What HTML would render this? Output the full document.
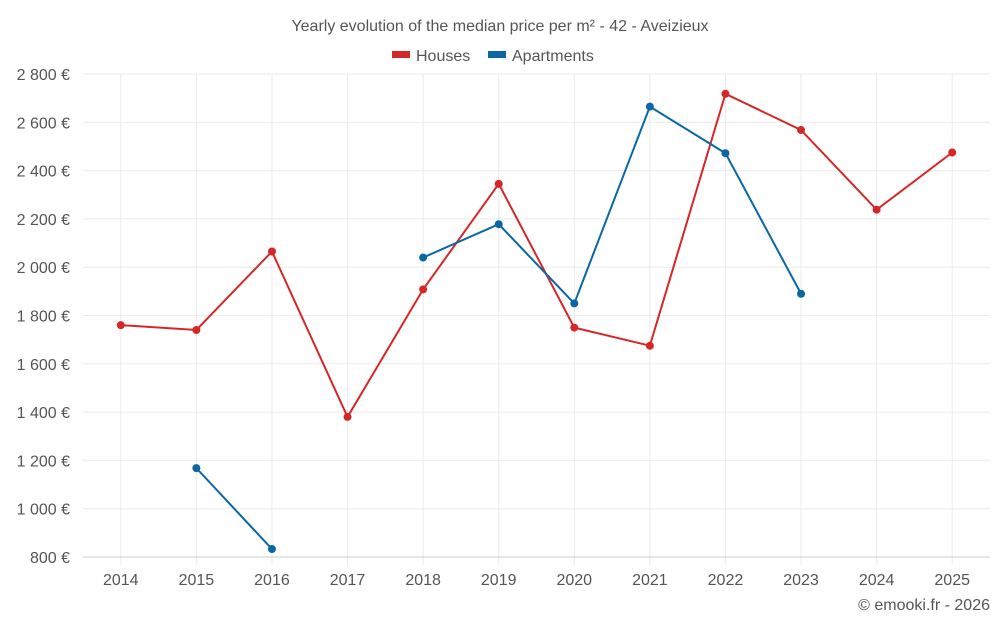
<!DOCTYPE html>
<html><head><meta charset="utf-8"><style>
html,body{margin:0;padding:0;background:#fff;}
svg{display:block;font-family:"Liberation Sans",sans-serif;}
</style></head><body>
<svg id="chart" width="1000" height="625">
<text x="500" y="31" text-anchor="middle" font-size="16" fill="#555">Yearly evolution of the median price per m² - 42 - Aveizieux</text>
<g>
<g><rect x="392" y="51" width="18" height="7" fill="#d62728"/><text x="416" y="61" font-size="16" fill="#555">Houses</text></g>
<g><rect x="488" y="51" width="18" height="7" fill="#0a67a3"/><text x="512" y="61" font-size="16" fill="#555">Apartments</text></g>
</g>
<g id="grid"></g><g id="axes"></g><g id="series"></g>
<text x="990" y="610" text-anchor="end" font-size="16" fill="#555">© emooki.fr - 2026</text>
</svg>
<script>
const years=[2014,2015,2016,2017,2018,2019,2020,2021,2022,2023,2024,2025];
const houses=[1760,1740,2065,1380,1908,2345,1750,1675,2718,2568,2238,2475];
const apartments=[null,1168,833,null,2040,2178,1850,2665,2472,1890,null,null];
const yTicks=[800,1000,1200,1400,1600,1800,2000,2200,2400,2600,2800];
const NS="http://www.w3.org/2000/svg";
const L=83,R=990,T=74,B=557,yMin=800,yMax=2800;
const step=(R-L)/years.length;
const xs=i=>L+step*(i+0.5);
const ys=v=>B-(v-yMin)/(yMax-yMin)*(B-T);
function mk(t,a,p){const e=document.createElementNS(NS,t);for(const k in a)e.setAttribute(k,a[k]);p.appendChild(e);return e;}
const grid=document.getElementById('grid'),axes=document.getElementById('axes'),ser=document.getElementById('series');
years.forEach((y,i)=>{
 const l=mk('line',{x1:xs(i),x2:xs(i),y1:T,y2:B+8,stroke:'#ebebeb'},grid);
 
 
});
yTicks.forEach(v=>{
 const l=mk('line',{x1:L,x2:R,y1:ys(v),y2:ys(v),stroke:v===yMin?'#ccc':'#ebebeb'},grid);
 
 
 const t=mk('text',{x:70,y:ys(v)+6,'text-anchor':'end','font-size':16,fill:'#555'},axes);
 t.textContent=v.toLocaleString('fr-FR').replace(/\s/g,' ')+' €';
 
 
});
years.forEach((y,i)=>{
 const t=mk('text',{x:xs(i),y:585,'text-anchor':'middle','font-size':16,fill:'#555'},axes);
 t.textContent=y;
 
 
});
function draw(data,color,name){
 let seg=[];const segs=[];
 data.forEach((v,i)=>{if(v==null){if(seg.length)segs.push(seg);seg=[];}else seg.push([xs(i),ys(v)]);});
 if(seg.length)segs.push(seg);
 segs.forEach(s=>{
  const p=mk('polyline',{points:s.map(q=>q.join(',')).join(' '),fill:'none',stroke:color,'stroke-width':2},ser);
  
  
 });
 data.forEach((v,i)=>{if(v==null)return;
  const c=mk('circle',{cx:xs(i),cy:ys(v),r:4,fill:color},ser);
  
  
 });
}
draw(houses,'#d62728','houses');
draw(apartments,'#0a67a3','apartments');
</script>
</body></html>
